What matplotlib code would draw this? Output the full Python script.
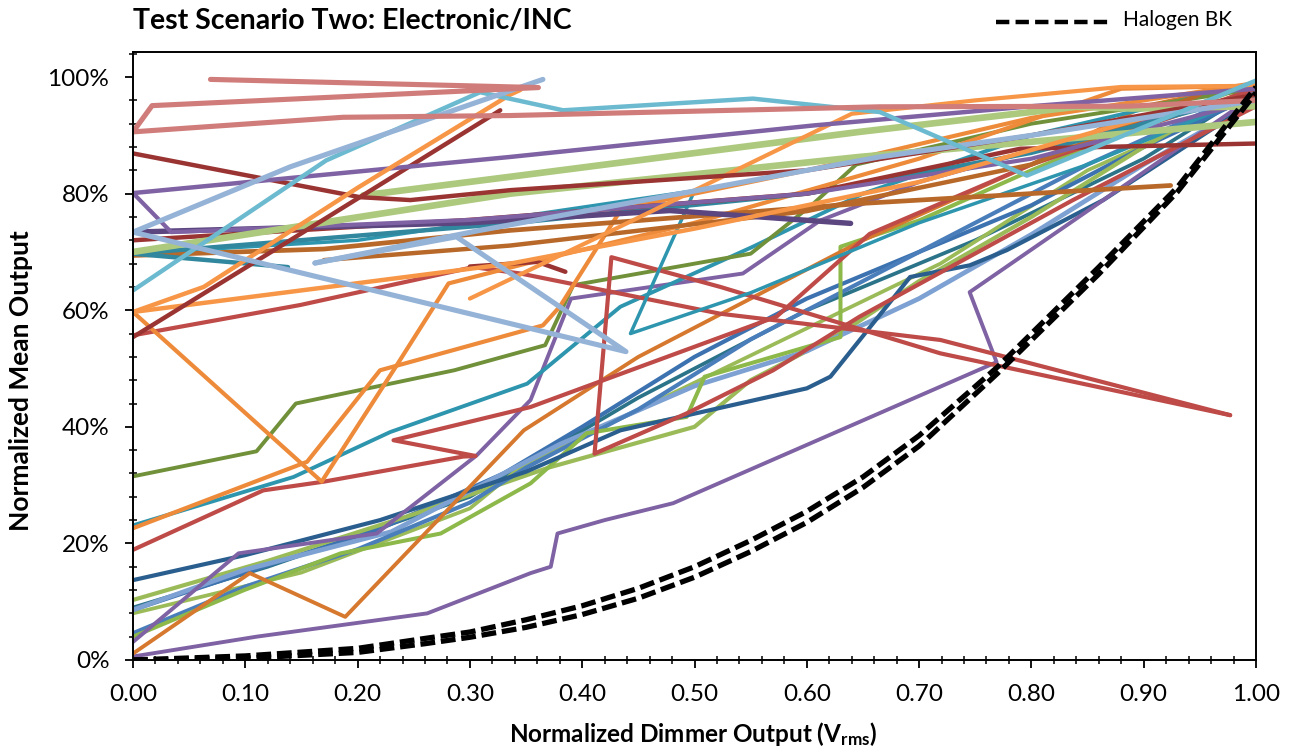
import matplotlib
matplotlib.use("Agg")
import matplotlib.pyplot as plt
from matplotlib.lines import Line2D
from matplotlib.ticker import MultipleLocator, FixedLocator

plt.rcParams['font.family'] = ['Lato', 'DejaVu Sans']
plt.rcParams['mathtext.fontset'] = 'custom'
plt.rcParams['mathtext.rm'] = 'Lato:bold'
plt.rcParams['mathtext.it'] = 'Lato:bold'
plt.rcParams['mathtext.bf'] = 'Lato:bold'

# ---------------- data (x = normalized dimmer output, y = normalized mean output in %) ----------------
x_pink = [0.069, 0.361, 0.017, 0.0, 0.187, 0.336, 0.665, 0.885, 1.0]
y_pink = [99.6, 98.2, 95.1, 90.6, 93.1, 93.4, 94.9, 95.0, 96.0]

x_aqua_peak = [0.0, 0.172, 0.309, 0.383, 0.552, 0.665, 0.796, 1.0]
y_aqua_peak = [63.4, 85.7, 97.4, 94.3, 96.3, 94.0, 83.1, 99.4]

x_lav_v = [0.162, 0.288, 0.439, 0.0, 0.14, 0.365]
y_lav_v = [68.1, 72.6, 52.9, 73.4, 84.6, 99.6]

x_lav_b = [0.162, 0.309, 0.665, 0.8, 1.0]
y_lav_b = [68.1, 73.7, 86.3, 90.0, 96.0]

x_olive = [0.0, 0.11, 0.145, 0.286, 0.367, 0.392, 0.55, 0.606, 0.644, 0.8, 1.0]
y_olive = [31.5, 35.8, 44.0, 49.7, 54.0, 64.3, 69.7, 78.3, 85.0, 92.0, 98.0]

x_orange1 = [0.0, 0.155, 0.22, 0.365, 0.38, 0.435, 0.6, 0.8, 1.0]
y_orange1 = [22.6, 34.0, 49.7, 57.4, 60.6, 77.4, 84.0, 93.0, 99.0]

x_orange2 = [0.0, 0.168, 0.232, 0.281, 0.36, 0.5, 0.7, 0.88, 1.0]
y_orange2 = [59.7, 30.6, 49.7, 64.6, 68.5, 75.0, 86.0, 98.0, 98.5]

x_orange3 = [0.0, 0.063, 0.2, 0.336, 0.345]
y_orange3 = [59.7, 64.0, 81.0, 97.0, 97.8]

x_orange4 = [0.0, 0.336, 0.5, 0.7, 0.9, 1.0]
y_orange4 = [59.7, 68.0, 74.0, 82.0, 93.0, 97.0]

x_orange5 = [0.3, 0.43, 0.64, 0.75, 0.88, 1.0]
y_orange5 = [62.0, 74.0, 93.7, 96.0, 98.3, 98.5]

x_dorange_zig = [0.0, 0.104, 0.189, 0.348, 0.45, 0.55, 0.65, 0.8, 0.9, 1.0]
y_dorange_zig = [1.1, 14.9, 7.4, 39.4, 52.0, 62.0, 72.0, 85.0, 95.0, 99.0]

x_navy = [0.0, 0.1, 0.22, 0.35, 0.434, 0.6, 0.621, 0.692, 0.745, 0.778, 0.864, 1.0]
y_navy = [13.7, 18.0, 24.0, 32.3, 39.4, 46.6, 48.6, 65.7, 67.7, 70.3, 78.9, 96.0]

x_purple_low = [0.0, 0.11, 0.262, 0.354, 0.372, 0.378, 0.42, 0.481, 0.769, 0.745, 0.864, 1.0]
y_purple_low = [0.6, 4.0, 8.0, 14.9, 16.0, 21.7, 24.0, 26.9, 51.1, 63.1, 78.9, 97.0]

x_purple1 = [0.0, 0.094, 0.217, 0.306, 0.354, 0.39, 0.543, 0.612, 0.7, 0.85, 1.0]
y_purple1 = [3.1, 18.3, 21.7, 35.1, 44.6, 62.0, 66.3, 75.4, 82.0, 90.0, 97.0]

x_red_zz = [0.0, 0.116, 0.17, 0.294, 0.305, 0.232, 0.354, 0.573, 0.656, 0.8, 1.0]
y_red_zz = [18.9, 29.1, 30.6, 34.9, 35.0, 37.7, 43.4, 58.9, 73.1, 85.0, 98.0]

x_red_v = [0.977, 0.719, 0.523, 0.426, 0.411, 0.493, 0.57, 0.647, 0.837, 1.0]
y_red_v = [42.0, 52.6, 64.0, 69.1, 35.4, 42.3, 49.7, 58.9, 78.9, 95.0]

x_red_long = [0.0, 0.149, 0.303, 0.345, 0.523, 0.719, 0.977]
y_red_long = [55.7, 60.9, 67.4, 66.3, 59.4, 54.9, 42.0]

x_dred_steep = [0.0, 0.15, 0.327]
y_dred_steep = [55.4, 73.2, 94.3]

x_dred_top = [0.0, 0.202, 0.247, 0.336, 0.6, 0.8, 1.0]
y_dred_top = [86.9, 79.4, 78.9, 80.6, 84.0, 90.0, 97.0]

x_dred_end = [0.0, 0.3, 0.6, 0.79, 1.0]
y_dred_end = [72.0, 75.5, 80.0, 87.7, 88.6]

x_dred_short = [0.30, 0.36, 0.385]
y_dred_short = [67.5, 68.3, 66.6]

x_purple_top = [0.0, 0.336, 0.606, 0.8, 1.0]
y_purple_top = [80.1, 86.3, 91.7, 95.0, 98.0]

x_purple_hook = [0.0, 0.034, 0.3, 0.6, 0.8, 1.0]
y_purple_hook = [80.1, 73.4, 75.5, 80.0, 86.0, 96.0]

x_dpurple = [0.0, 0.3, 0.478, 0.639]
y_dpurple = [73.4, 75.0, 77.1, 74.9]

x_teal_short = [0.0, 0.138]
y_teal_short = [69.7, 67.4]

x_teal_up = [0.0, 0.336, 0.6, 0.8, 1.0]
y_teal_up = [69.7, 74.9, 80.0, 87.0, 97.0]

x_teal1 = [0.0, 0.143, 0.229, 0.351, 0.434, 0.552, 0.65, 0.8, 1.0]
y_teal1 = [23.1, 31.4, 39.1, 47.4, 60.6, 70.9, 80.0, 90.0, 99.0]

x_aqua_zig = [0.0, 0.2, 0.5, 0.443, 0.55, 0.7, 0.85, 1.0]
y_aqua_zig = [69.7, 72.0, 80.5, 56.0, 63.0, 75.0, 85.0, 97.0]

x_lgreen1 = [0.0, 0.336, 0.647, 1.0]
y_lgreen1 = [70.0, 80.0, 86.3, 92.3]

x_lgreen2 = [0.205, 0.336, 0.647, 0.84, 0.89, 1.0]
y_lgreen2 = [79.7, 82.9, 90.6, 94.9, 94.6, 95.0]

x_brown1 = [0.0, 0.17, 0.336, 0.647, 0.924]
y_brown1 = [69.4, 70.5, 73.7, 78.3, 81.4]

x_brown2 = [0.17, 0.336, 0.6, 0.8, 0.95]
y_brown2 = [68.6, 71.1, 77.0, 85.0, 97.0]

x_blue1 = [0.0, 0.1, 0.2, 0.3, 0.35, 0.45, 0.55, 0.65, 0.75, 0.85, 1.0]
y_blue1 = [4.6, 12.6, 19.0, 27.0, 33.0, 43.0, 55.0, 65.0, 75.0, 85.0, 98.0]

x_blue2 = [0.0, 0.1, 0.22, 0.33, 0.4, 0.5, 0.6, 0.7, 0.8, 0.9, 1.0]
y_blue2 = [8.6, 15.0, 22.5, 32.0, 40.0, 52.0, 62.0, 70.0, 78.0, 88.0, 97.0]

x_lblue = [0.0, 0.1, 0.23, 0.3, 0.38, 0.5, 0.6, 0.7, 0.8, 0.9, 1.0]
y_lblue = [8.6, 15.5, 22.0, 29.0, 37.0, 47.0, 53.0, 62.0, 73.0, 85.0, 96.0]

x_green1 = [0.0, 0.12, 0.25, 0.37, 0.5, 0.55, 0.63, 0.7, 0.8, 0.9, 1.0]
y_green1 = [10.3, 17.0, 25.0, 33.0, 40.0, 48.0, 56.0, 65.0, 76.0, 88.0, 99.0]

x_green_zig = [0.0, 0.099, 0.185, 0.274, 0.354, 0.404, 0.493, 0.509, 0.63, 0.63, 0.7, 0.8, 0.9, 1.0]
y_green_zig = [4.0, 12.0, 18.3, 21.7, 30.3, 38.9, 41.7, 48.6, 55.4, 70.9, 75.4, 84.0, 92.0, 99.0]

x_green2 = [0.0, 0.15, 0.3, 0.345, 0.511, 0.719, 0.85, 1.0]
y_green2 = [8.0, 15.0, 26.0, 33.1, 48.6, 68.0, 84.0, 97.0]

x_dteal = [0.0, 0.12, 0.3, 0.45, 0.6, 0.75, 0.9, 1.0]
y_dteal = [9.0, 16.0, 28.0, 45.0, 60.0, 72.0, 86.0, 98.0]

x_halogen = [0.0, 0.1, 0.2, 0.26, 0.3, 0.35, 0.4, 0.45, 0.5, 0.55, 0.6, 0.65, 0.7, 0.77, 0.86, 0.93, 1.0]
y_halogen_a = [0.0, 0.7, 2.0, 3.7, 4.8, 6.9, 9.3, 12.3, 16.0, 20.5, 25.5, 31.4, 38.5, 50.3, 67.4, 81.1, 98.3]
y_halogen_b = [0.0, 0.3, 1.3, 2.8, 3.9, 5.6, 7.8, 10.6, 14.2, 18.6, 23.6, 29.6, 36.7, 49.2, 66.2, 80.3, 97.3]

x_ticks = [0.0, 0.1, 0.2, 0.3, 0.4, 0.5, 0.6, 0.7, 0.8, 0.9, 1.0]
x_ticklabels = ['0.00', '0.10', '0.20', '0.30', '0.40', '0.50', '0.60', '0.70', '0.80', '0.90', '1.00']
y_ticks = [0, 20, 40, 60, 80, 100]
y_ticklabels = ['0%', '20%', '40%', '60%', '80%', '100%']

title_text = 'Test Scenario Two: Electronic/INC'
legend_label = 'Halogen BK'
xlabel_text = r'Normalized Dimmer Output (V$_{\mathrm{rms}}$)'
ylabel_text = 'Normalized Mean Output'

# ---------------- styles ----------------
BLUE = '#4A7EBB'; BLUE2 = '#3C72B0'; LBLUE = '#7DA1D2'
RED = '#BE4B48'; DRED = '#9A3432'; PINK = '#D07C7A'
GREEN = '#9BBB59'; GREENB = '#8DB84A'; OLIVE = '#71903A'; LGREEN = '#ADC97D'
PURPLE = '#7F62A3'; DPURPLE = '#5C4680'
AQUA = '#6CBAD0'; TEAL = '#31879E'; TEAL2 = '#2E95AE'; DTEAL = '#2B7389'
ORANGE = '#F79646'; ORANGE2 = '#EE8B3A'; DORANGE = '#D6782E'; BROWN = '#B8692A'
LAV = '#95B3D7'; NAVY = '#2A5E8E'

series = [
    (x_dteal, y_dteal, DTEAL, 2.7),
    (x_green2, y_green2, GREEN, 2.7),
    (x_blue2, y_blue2, BLUE2, 3.0),
    (x_green1, y_green1, GREEN, 3.0),
    (x_lblue, y_lblue, LBLUE, 3.4),
    (x_blue1, y_blue1, BLUE, 3.0),
    (x_green_zig, y_green_zig, GREENB, 2.9),
    (x_navy, y_navy, NAVY, 3.0),
    (x_purple_low, y_purple_low, PURPLE, 2.8),
    (x_purple1, y_purple1, PURPLE, 2.8),
    (x_dorange_zig, y_dorange_zig, DORANGE, 2.8),
    (x_teal1, y_teal1, TEAL2, 2.8),
    (x_olive, y_olive, OLIVE, 2.8),
    (x_red_zz, y_red_zz, RED, 3.0),
    (x_red_v, y_red_v, RED, 3.0),
    (x_red_long, y_red_long, RED, 3.0),
    (x_aqua_zig, y_aqua_zig, TEAL2, 2.5),
    (x_orange1, y_orange1, ORANGE2, 3.0),
    (x_orange2, y_orange2, ORANGE2, 3.0),
    (x_brown2, y_brown2, BROWN, 3.2),
    (x_brown1, y_brown1, BROWN, 3.4),
    (x_teal_short, y_teal_short, TEAL, 3.2),
    (x_teal_up, y_teal_up, TEAL, 3.2),
    (x_dred_end, y_dred_end, DRED, 3.2),
    (x_dred_short, y_dred_short, DRED, 3.2),
    (x_dpurple, y_dpurple, DPURPLE, 3.9),
    (x_purple_hook, y_purple_hook, PURPLE, 3.0),
    (x_lgreen1, y_lgreen1, LGREEN, 4.8),
    (x_lgreen2, y_lgreen2, LGREEN, 4.8),
    (x_orange4, y_orange4, ORANGE, 3.2),
    (x_orange5, y_orange5, ORANGE, 3.0),
    (x_dred_top, y_dred_top, DRED, 3.2),
    (x_dred_steep, y_dred_steep, DRED, 3.2),
    (x_purple_top, y_purple_top, PURPLE, 3.2),
    (x_orange3, y_orange3, ORANGE, 3.2),
    (x_lav_b, y_lav_b, LAV, 3.7),
    (x_aqua_peak, y_aqua_peak, AQUA, 3.2),
    (x_lav_v, y_lav_v, LAV, 3.7),
    (x_pink, y_pink, PINK, 3.7),
]

W, H = 1289, 753
fig = plt.figure(figsize=(W / 100, H / 100), dpi=100)
L, R, T, B = 133, 1256, 52, 660
ax = fig.add_axes([L / W, 1 - B / H, (R - L) / W, (B - T) / H])

for xs, ys, col, lw in series:
    ax.plot(xs, ys, color=col, lw=lw, solid_capstyle='round', solid_joinstyle='round', clip_on=True)

for yy in (y_halogen_a, y_halogen_b):
    ax.plot(x_halogen, yy, color='black', lw=3.8, dashes=(2.8, 1.1), dash_capstyle='butt', zorder=5)

ax.set_xlim(0, 1.0)
ax.set_ylim(0, 104.3)
ax.xaxis.set_major_locator(FixedLocator(x_ticks))
ax.set_xticklabels(x_ticklabels)
ax.xaxis.set_minor_locator(MultipleLocator(0.02))
ax.yaxis.set_major_locator(FixedLocator(y_ticks))
ax.set_yticklabels(y_ticklabels)
ax.yaxis.set_minor_locator(MultipleLocator(4))

ax.tick_params(which='major', direction='out', length=6, width=1.3, colors='black',
               labelsize=17.5, pad=11)
ax.tick_params(which='minor', direction='inout', length=6, width=1.1, colors='black')
for s in ax.spines.values():
    s.set_linewidth(1.4)
    s.set_color('black')

fig.text(L / W, 1 - 21 / H, title_text, fontsize=20.5, fontweight='bold', ha='left', va='center')
fig.text(693 / W, 1 - 734 / H, xlabel_text, fontsize=17.5, fontweight='bold', ha='center', va='center')
fig.text(21 / W, 1 - 381 / H, ylabel_text, fontsize=19, fontweight='bold', ha='center', va='center',
         rotation=90)

fig.add_artist(Line2D([996 / W, 1108 / W], [1 - 22 / H, 1 - 22 / H], transform=fig.transFigure,
                      color='black', lw=3.2, dashes=(3, 1.4)))
fig.text(1123 / W, 1 - 20 / H, legend_label, fontsize=15, ha='left', va='center')

fig.savefig('out.png', dpi=100)
